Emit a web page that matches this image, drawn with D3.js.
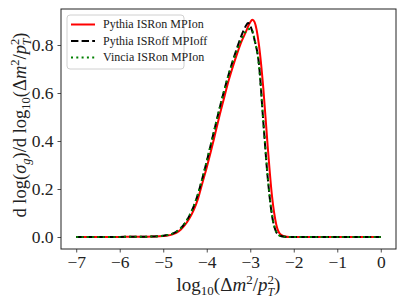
<!DOCTYPE html>
<html>
<head>
<meta charset="utf-8">
<script src="https://cdn.jsdelivr.net/npm/d3@7"></script>
<style>
  body { margin: 0; background: #fff; }
  text { font-family: "Liberation Serif", "DejaVu Serif", serif; fill: #222; }
</style>
</head>
<body>
<div id="chart"></div>
<script>
// log10(dm^2/pT^2) sample points
var xVals = [-7, -6.5, -6, -5.5, -5.25, -5, -4.9, -4.8, -4.7, -4.6, -4.5, -4.4, -4.3, -4.2, -4.1, -4.0,
  -3.9, -3.8, -3.7, -3.6, -3.5, -3.4, -3.3, -3.2, -3.1, -3.05, -3.0, -2.95, -2.9, -2.8, -2.7, -2.6,
  -2.5, -2.4, -2.3, -2.2, -2.1, -2.0, -1.5, -1.0, -0.5, 0];

var pythiaOn = [0, 0, 0.0005, 0.001, 0.002, 0.004, 0.006, 0.010, 0.017, 0.030, 0.050, 0.077, 0.112, 0.160, 0.225, 0.290,
  0.360, 0.435, 0.510, 0.580, 0.650, 0.710, 0.765, 0.815, 0.855, 0.877, 0.895, 0.905, 0.895, 0.800, 0.620, 0.380,
  0.170, 0.050, 0.010, 0.002, 0, 0, 0, 0, 0, 0];

var pythiaOff = [0, 0, 0.0005, 0.001, 0.002, 0.005, 0.008, 0.013, 0.022, 0.036, 0.058, 0.088, 0.128, 0.180, 0.245, 0.315,
  0.390, 0.465, 0.540, 0.610, 0.675, 0.735, 0.790, 0.840, 0.880, 0.892, 0.880, 0.855, 0.820, 0.720, 0.480, 0.250,
  0.090, 0.020, 0.004, 0.001, 0, 0, 0, 0, 0, 0];

var vinciaOn = [0, 0, 0.0005, 0.001, 0.002, 0.005, 0.008, 0.013, 0.022, 0.036, 0.058, 0.088, 0.128, 0.180, 0.245, 0.315,
  0.390, 0.465, 0.540, 0.610, 0.675, 0.730, 0.780, 0.825, 0.857, 0.864, 0.868, 0.858, 0.822, 0.715, 0.485, 0.255,
  0.092, 0.021, 0.004, 0.001, 0, 0, 0, 0, 0, 0];

var xTicks = [-7, -6, -5, -4, -3, -2, -1, 0];
var yTicks = [0.0, 0.2, 0.4, 0.6, 0.8];

var legendNames = ["Pythia ISRon MPIon", "Pythia ISRoff MPIoff", "Vincia ISRon MPIon"];

var W = 406, H = 304;
var margin = {left: 61, right: 10, top: 9, bottom: 55};

var svg = d3.select("#chart").append("svg")
  .attr("width", W)
  .attr("height", H);

var x = d3.scaleLinear().domain([-7.35, 0.35]).range([margin.left, W - margin.right]);
var y = d3.scaleLinear().domain([-0.05, 0.95]).range([H - margin.bottom, margin.top]);

// axes
var xAxis = svg.append("g")
  .attr("transform", "translate(0," + (H - margin.bottom) + ")")
  .call(d3.axisBottom(x).tickValues(xTicks).tickSize(3.5).tickPadding(3)
    .tickFormat(function(d) { return d < 0 ? "\u2212" + (-d) : d; }));
var yAxis = svg.append("g")
  .attr("transform", "translate(" + margin.left + ",0)")
  .call(d3.axisLeft(y).tickValues(yTicks).tickSize(3.5).tickPadding(4)
    .tickFormat(d3.format(".1f")));

[xAxis, yAxis].forEach(function(a) {
  a.select(".domain").remove();
  a.selectAll("line").attr("stroke", "#222").attr("stroke-width", 0.8);
  a.selectAll("text").style("font-size", "17.5px").attr("fill", "#333");
});

var series = [
  {vals: pythiaOn, color: "#ff0000", dash: null},
  {vals: pythiaOff, color: "#000000", dash: "7.4,3.2"},
  {vals: vinciaOn, color: "#008000", dash: "2,3.3"}
];

var line = d3.line()
  .x(function(d) { return x(d[0]); })
  .y(function(d) { return y(d[1]); })
  .curve(d3.curveMonotoneX);

series.forEach(function(s) {
  svg.append("path")
    .datum(xVals.map(function(v, i) { return [v, s.vals[i]]; }))
    .attr("fill", "none")
    .attr("stroke", s.color)
    .attr("stroke-width", 2)
    .attr("stroke-dasharray", s.dash)
    .attr("d", line);
});

// frame
svg.append("rect")
  .attr("x", margin.left).attr("y", margin.top)
  .attr("width", W - margin.left - margin.right)
  .attr("height", H - margin.top - margin.bottom)
  .attr("fill", "none").attr("stroke", "#222").attr("stroke-width", 1);

// legend
var leg = svg.append("g").attr("transform", "translate(67,15)");
leg.append("rect")
  .attr("width", 117).attr("height", 54).attr("rx", 3)
  .attr("fill", "#fff").attr("fill-opacity", 0.8)
  .attr("stroke", "#d0d0d0").attr("stroke-width", 1);
series.forEach(function(s, i) {
  var ly = 9.5 + i * 16.5;
  leg.append("line")
    .attr("x1", 4).attr("x2", 28).attr("y1", ly).attr("y2", ly)
    .attr("stroke", s.color).attr("stroke-width", 2)
    .attr("stroke-dasharray", s.dash);
  leg.append("text")
    .attr("x", 36).attr("y", ly + 3.8)
    .style("font-size", "12px")
    .attr("fill", "#333")
    .text(legendNames[i]);
});

// x label
var xl = svg.append("text")
  .attr("x", (margin.left + W - margin.right) / 2)
  .attr("y", 291)
  .attr("text-anchor", "middle")
  .attr("fill", "#333")
  .style("font-size", "19px");
xl.append("tspan").text("log");
xl.append("tspan").attr("dy", 4).style("font-size", "13px").text("10");
xl.append("tspan").attr("dy", -4).text("(\u0394");
xl.append("tspan").style("font-style", "italic").text("m");
xl.append("tspan").attr("dy", -7).style("font-size", "13px").text("2");
xl.append("tspan").attr("dy", 7).text("/");
xl.append("tspan").style("font-style", "italic").text("p");
xl.append("tspan").attr("dy", -7).style("font-size", "13px").text("2");
xl.append("tspan").attr("dx", -6.5).attr("dy", 12).style("font-size", "12px").style("font-style", "italic").text("T");
xl.append("tspan").attr("dy", -5).text(")");

// y label
var yl = svg.append("text")
  .attr("transform", "translate(26," + ((margin.top + H - margin.bottom) / 2 - 4) + ") rotate(-90)")
  .attr("text-anchor", "middle")
  .attr("fill", "#333")
  .style("font-size", "18.5px");
yl.append("tspan").text("d log(");
yl.append("tspan").style("font-style", "italic").text("\u03c3");
yl.append("tspan").attr("dy", 4).style("font-size", "12.5px").style("font-style", "italic").text("g");
yl.append("tspan").attr("dy", -4).text(")/d log");
yl.append("tspan").attr("dy", 4).style("font-size", "12.5px").text("10");
yl.append("tspan").attr("dy", -4).text("(\u0394");
yl.append("tspan").style("font-style", "italic").text("m");
yl.append("tspan").attr("dy", -7).style("font-size", "12.5px").text("2");
yl.append("tspan").attr("dy", 7).text("/");
yl.append("tspan").style("font-style", "italic").text("p");
yl.append("tspan").attr("dy", -7).style("font-size", "12.5px").text("2");
yl.append("tspan").attr("dx", -6.5).attr("dy", 12).style("font-size", "12px").style("font-style", "italic").text("T");
yl.append("tspan").attr("dy", -5).text(")");
</script>
</body>
</html>
